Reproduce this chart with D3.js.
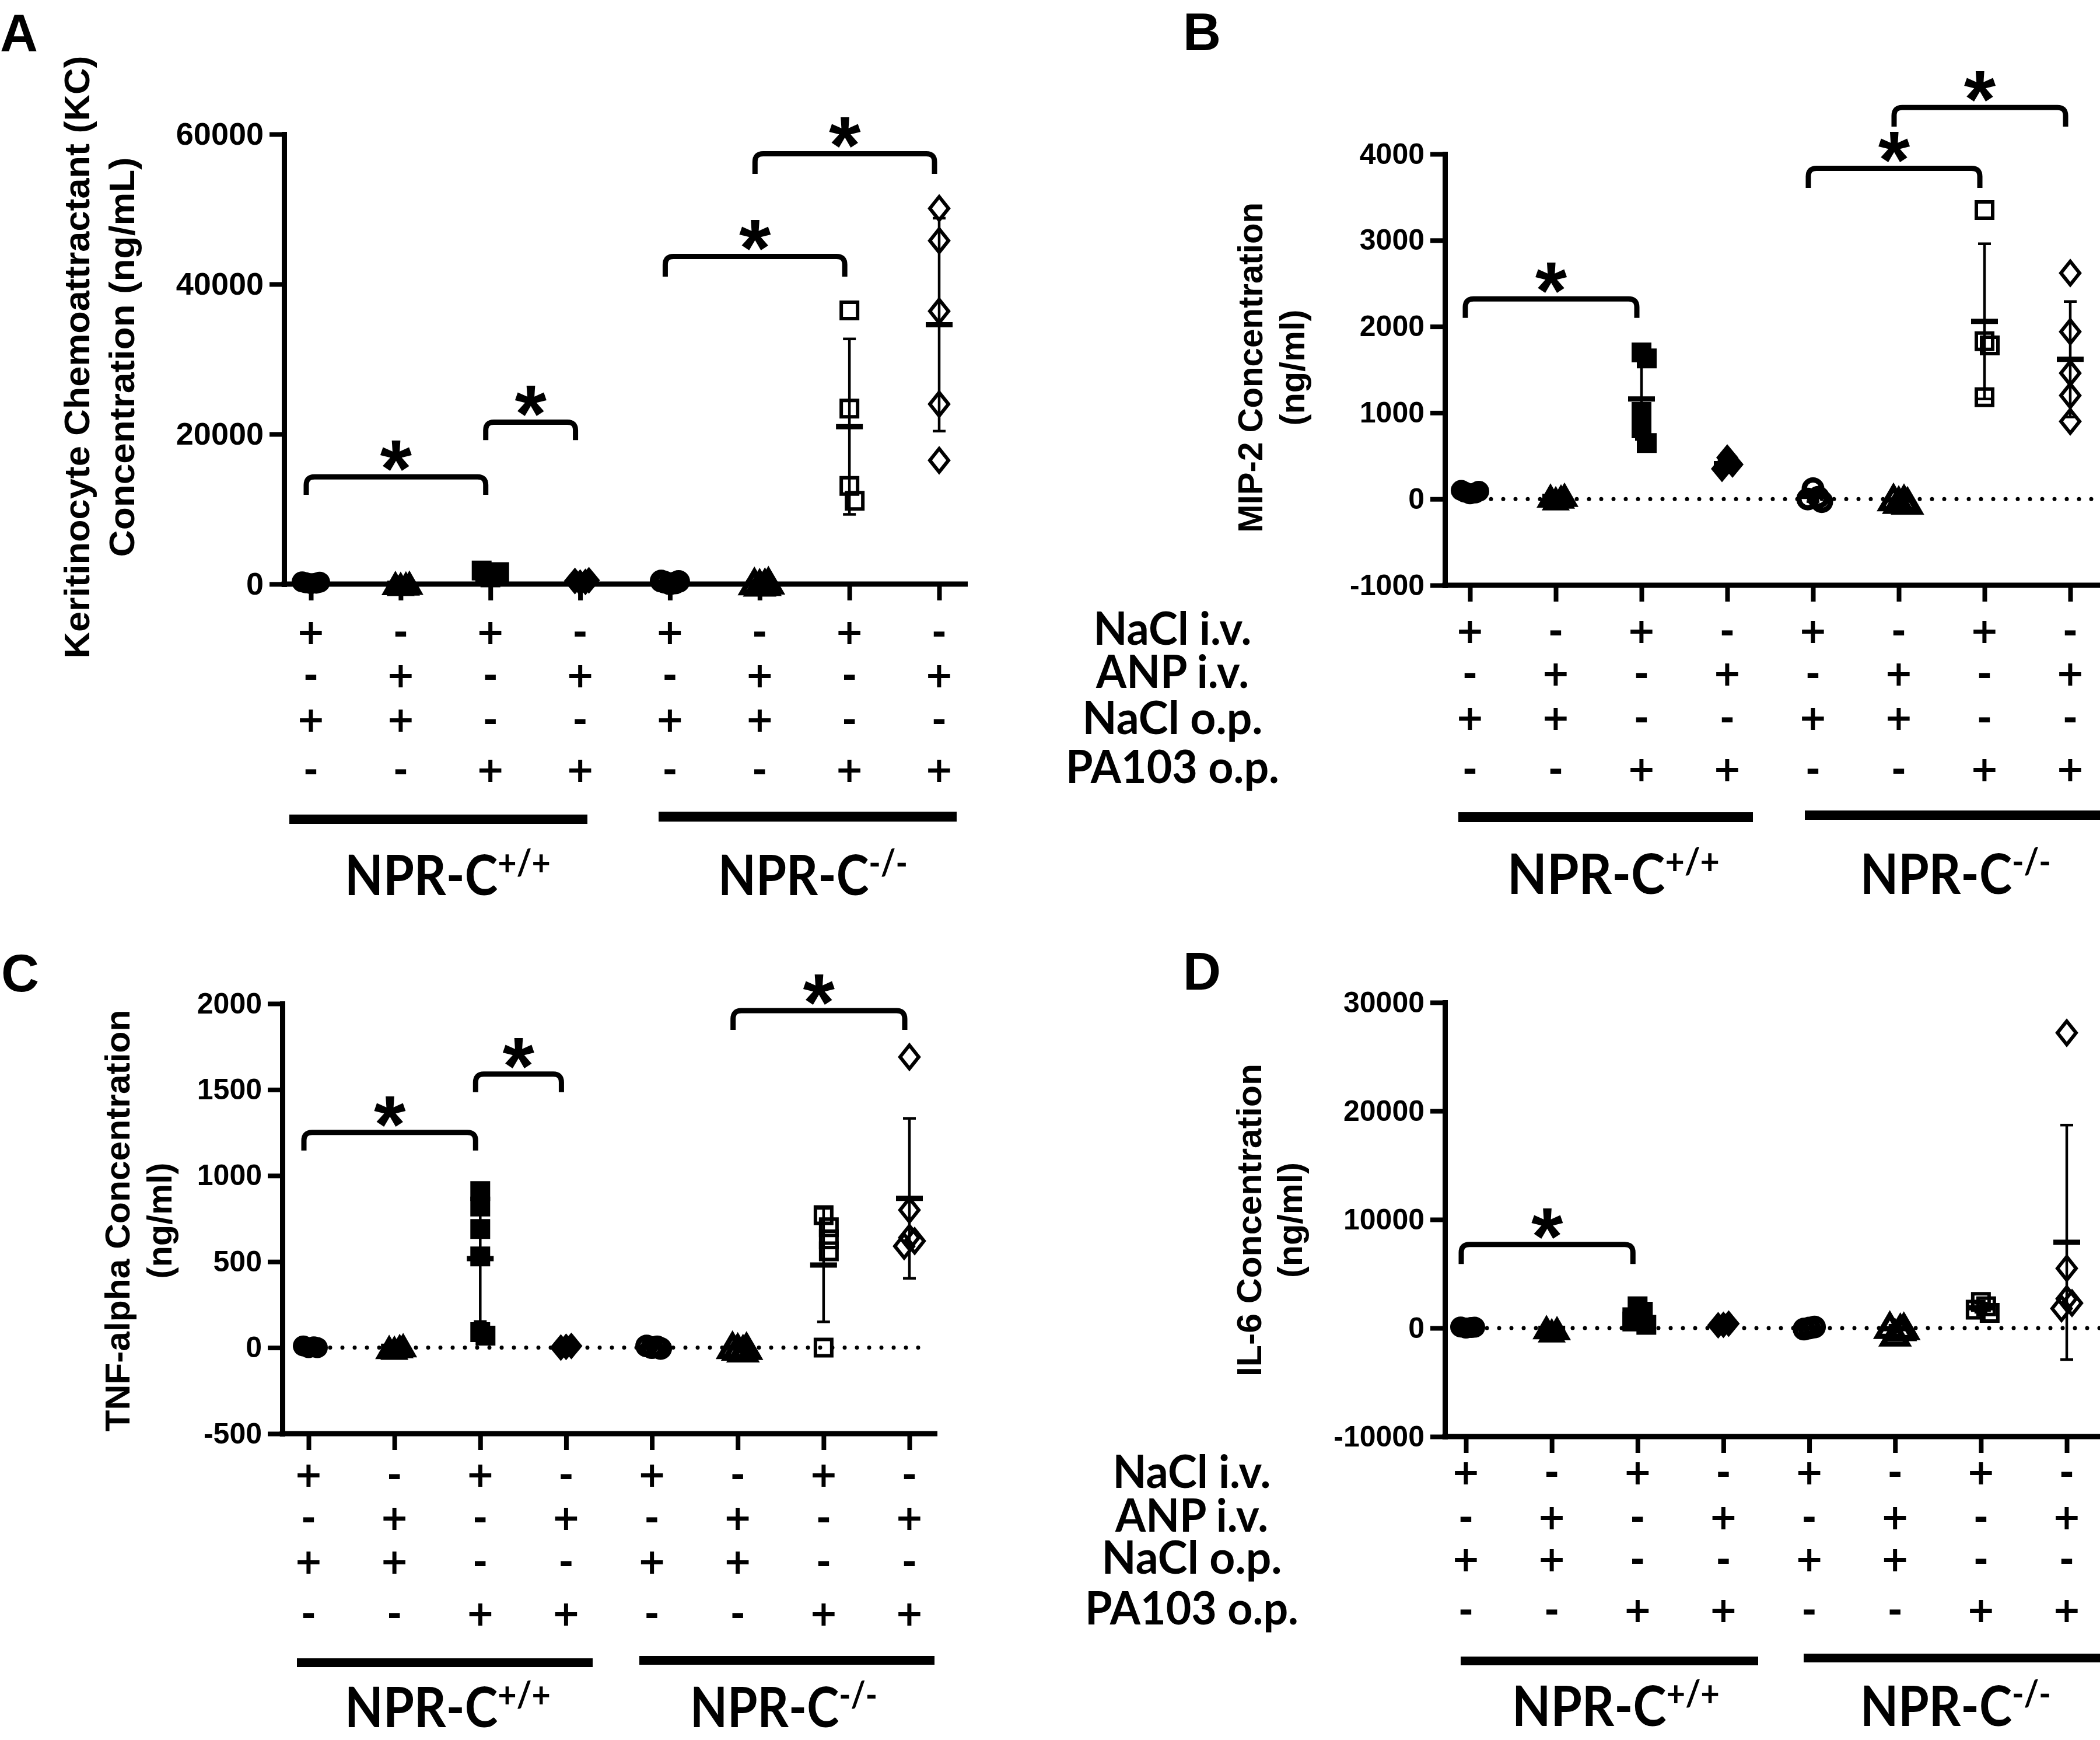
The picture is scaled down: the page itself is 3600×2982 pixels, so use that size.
<!DOCTYPE html>
<html><head><meta charset="utf-8">
<script src="https://cdn.jsdelivr.net/npm/d3@7"></script>
<style>body{margin:0;background:#fff}svg{display:block}</style>
</head><body>
<svg id="c" width="3600" height="2982"></svg>
<script>
// ---------------- DATA ----------------
const groups = ["WT NaCl iv/NaCl op","WT ANP iv/NaCl op","WT NaCl iv/PA103 op","WT ANP iv/PA103 op",
                "KO NaCl iv/NaCl op","KO ANP iv/NaCl op","KO NaCl iv/PA103 op","KO ANP iv/PA103 op"];
const rowLabels = ["NaCl i.v.","ANP i.v.","NaCl o.p.","PA103 o.p."];
const naclIV  = ["+","-","+","-","+","-","+","-"];
const anpIV   = ["-","+","-","+","-","+","-","+"];
const naclOP  = ["+","+","-","-","+","+","-","-"];
const pa103OP = ["-","-","+","+","-","-","+","+"];
const genotypeMain = ["NPR-C","NPR-C"];
const genotypeSup  = ["+/+","-/-"];
const markerShapes = ["circle","triangle","square","diamond","circle","triangle","square","diamond"];
const markerOpen   = [false,false,false,false,true,true,true,true];

// Panel A: KC
const kcTicks = [0,20000,40000,60000];
const kcValues = [[60,120,180,250,300],[40,90,150,200],[900,1200,1400,1600,1800],[200,300,400,500],
                  [50,150,250,350,400],[80,150,250,350],[36500,23400,13100,11100],[50100,45800,36400,24000,16500]];
const kcMean = [180,120,1380,350,240,210,21000,34600];
const kcSD   = [90,70,350,130,140,120,11700,14200];
const kcBrackets = [[0,2,14300,11900],[2,3,21600,19200],[4,6,43700,41000],[5,7,57400,54700]];

// Panel B: MIP-2
const mipTicks = [-1000,0,1000,2000,3000,4000];
const mipValues = [[60,70,80,90,100],[10,30,40,50],[1700,1630,1010,820,650],[480,400,350],
                   [120,20,0,-30],[-20,0,10,-30],[3350,1830,1780,1180],[2620,1940,1460,1200,900]];
const mipMean = [80,30,1160,410,30,-10,2060,1620];
const mipSD   = [15,17,470,65,60,20,900,670];
const mipBrackets = [[0,2,2320,2100],[4,6,3835,3608],[5,7,4540,4318]];

// Panel C: TNF-alpha
const tnfTicks = [-500,0,500,1000,1500,2000];
const tnfValues = [[0,5,10,0],[0,10,5,15],[910,820,690,530,90,70],[5,10,0],
                   [0,5,10,-5],[0,-10,10,5],[770,700,630,560,0],[1690,800,640,620,590]];
const tnfMean = [4,8,518,5,3,2,480,868];
const tnfSD   = [5,6,366,5,6,9,330,465];
const tnfBrackets = [[0,2,1251,1146],[2,3,1590,1485],[5,7,1959,1847]];

// Panel D: IL-6
const il6Ticks = [-10000,0,10000,20000,30000];
const il6Values = [[0,50,100,80],[-200,0,100],[2000,1500,1000,600,300],[300,400,250],
                   [0,100,-100],[-500,0,200,100],[2400,2000,1700,1400],[27200,5500,2700,2300,1800]];
const il6Mean = [58,-33,1080,317,0,-50,1875,7900];
const il6SD   = [44,153,680,76,100,310,420,10800];
const il6Brackets = [[0,2,7700,5900]];

// ---------------- LAYOUT ----------------
const FA = "'Liberation Sans', Arial, sans-serif";
const FC = "Lato, 'Open Sans', 'Liberation Sans', sans-serif";
const FS = "'DejaVu Sans', sans-serif";
const svg = d3.select("#c");

const panels = [
 {letter:"A", lx:0, ly:88, values:kcValues, mean:kcMean, sd:kcSD, brackets:kcBrackets, domain:[0,60000], ticks:kcTicks,
  axisX:487, yTop:230, yBot:1001, xFirst:533, xLast:1610, xEnd:1659, tickFont:54, zero:null,
  title:["Keritinocyte Chemoattractant (KC)","Concentration (ng/mL)"], titleFont:62, titleX:[153,230], titleY:612, titleLen:[1033,685],
  rowsC:[1082,1156,1232,1318], rowLabelX:null, rowLabelY:null,
  bars:[[496,1396,511,16],[1129,1391,511,17]],
  geno:[[591,1534,353],[1231,1534,325]]},
 {letter:"B", lx:2028, ly:86, values:mipValues, mean:mipMean, sd:mipSD, brackets:mipBrackets, domain:[-1000,4000], ticks:mipTicks,
  axisX:2477, yTop:264, yBot:1003, xFirst:2520, xLast:3549, xEnd:3600, tickFont:50, zero:[2535,3600],
  title:["MIP-2 Concentration","(ng/ml)"], titleFont:59, titleX:[2164,2236], titleY:630, titleLen:[566,199],
  rowsC:[1080,1153,1229,1317], rowLabelX:2010, rowLabelY:[1105,1179,1258,1342],
  bars:[[2500,1392,505,17],[3094,1389,506,16]],
  geno:[[2584,1532,364],[3189,1532,327]]},
 {letter:"C", lx:2, ly:1699, values:tnfValues, mean:tnfMean, sd:tnfSD, brackets:tnfBrackets, domain:[-500,2000], ticks:tnfTicks,
  axisX:484, yTop:1720, yBot:2457, xFirst:529, xLast:1559, xEnd:1607, tickFont:50, zero:[545,1590],
  title:["TNF-alpha Concentration","(ng/ml)"], titleFont:59, titleX:[222,294], titleY:2092, titleLen:[723,199],
  rowsC:[2526,2600,2675,2764], rowLabelX:null, rowLabelY:null,
  bars:[[509,2842,507,15],[1096,2838,506,15]],
  geno:[[591,2960,353],[1183,2960,321]]},
 {letter:"D", lx:2028, ly:1696, values:il6Values, mean:il6Mean, sd:il6SD, brackets:il6Brackets, domain:[-10000,30000], ticks:il6Ticks,
  axisX:2477, yTop:1718, yBot:2462, xFirst:2513, xLast:3543, xEnd:3600, tickFont:50, zero:[2528,3600],
  title:["IL-6 Concentration","(ng/ml)"], titleFont:59, titleX:[2162,2232], titleY:2091, titleLen:[536,198],
  rowsC:[2522,2599,2671,2758], rowLabelX:2043, rowLabelY:[2550,2625,2697,2784],
  bars:[[2504,2839,510,15],[3092,2834,508,15]],
  geno:[[2592,2958,356],[3189,2958,327]]}
];

const rowData = [naclIV, anpIV, naclOP, pa103OP];
const rowLabelLen = [271,262,309,366];
const SYM_FS = 60;

function markerPath(shape, open){
  const sw = open ? 6 : 0, inset = sw/2;
  if(shape==="circle"){ const r=18-inset; return `M${-r},0A${r},${r} 0 1 0 ${r},0A${r},${r} 0 1 0 ${-r},0Z`; }
  if(shape==="square"){ const h=17-inset; return `M${-h},${-h}H${h}V${h}H${-h}Z`; }
  if(shape==="triangle"){ const w=24-inset, hh=21-inset; return `M0,${-hh}L${w},${hh}H${-w}Z`; }
  const w=19-inset, hh=23-inset; return `M0,${-hh}L${w},0L0,${hh}L${-w},0Z`;
}

panels.forEach(p=>{
  const g = svg.append("g");
  const x = d3.scalePoint().domain(groups).range([p.xFirst, p.xLast]);
  const y = d3.scaleLinear().domain(p.domain).range([p.yBot, p.yTop]);

  // zero dotted line
  if(p.zero){
    g.append("line").attr("x1",p.zero[0]).attr("x2",p.zero[1]).attr("y1",y(0)).attr("y2",y(0))
      .attr("stroke","#000").attr("stroke-width",7).attr("stroke-linecap","round").attr("stroke-dasharray","0 21");
  }

  // y axis
  const ya = g.append("g").attr("transform",`translate(${p.axisX},0)`)
    .call(d3.axisLeft(y).tickValues(p.ticks).tickSize(25).tickSizeOuter(0).tickPadding(10).tickFormat(d=>String(d)));
  ya.attr("font-family",FA).attr("font-size",p.tickFont).attr("font-weight","bold");
  ya.select(".domain").attr("stroke","#000").attr("stroke-width",9).attr("stroke-linecap","square");
  ya.selectAll(".tick line").attr("stroke","#000").attr("stroke-width",8);
  ya.selectAll(".tick text").attr("fill","#000");

  // x axis
  g.append("line").attr("x1",p.axisX-4.5).attr("x2",p.xEnd).attr("y1",p.yBot).attr("y2",p.yBot)
    .attr("stroke","#000").attr("stroke-width",9);
  const xa = g.append("g").attr("transform",`translate(0,${p.yBot})`)
    .call(d3.axisBottom(x).tickSize(28).tickSizeOuter(0).tickFormat(""));
  xa.select(".domain").remove();
  xa.selectAll(".tick line").attr("stroke","#000").attr("stroke-width",8);

  // points
  p.values.forEach((vals,i)=>{
    const cx = x(groups[i]);
    const shape = markerShapes[i], open = markerOpen[i];
    const placed = [];
    vals.forEach(v=>{
      const py = y(v);
      const k = placed.filter(q=>Math.abs(q-py)<26).length;
      placed.push(py);
      const dx = [0,9,-9,15,-15][Math.min(k,4)];
      g.append("path").attr("d",markerPath(shape,open))
        .attr("transform",`translate(${cx+dx},${py})`)
        .attr("fill",open?"none":"#000").attr("stroke","#000")
        .attr("stroke-width",open?(i<6?9:6):0).attr("stroke-linejoin","miter");
    });
    // error bars (mean ± SD)
    const m = p.mean[i], s = p.sd[i];
    const eb = g.append("g").attr("stroke","#000");
    eb.append("line").attr("x1",cx).attr("x2",cx).attr("y1",y(m-s)).attr("y2",y(m+s)).attr("stroke-width",4.5);
    [m-s,m+s].forEach(v=>eb.append("line").attr("x1",cx-11).attr("x2",cx+11).attr("y1",y(v)).attr("y2",y(v)).attr("stroke-width",4.5));
    eb.append("line").attr("x1",cx-23).attr("x2",cx+23).attr("y1",y(m)).attr("y2",y(m)).attr("stroke-width",9);
  });

  // significance brackets
  p.brackets.forEach(b=>{
    const x1 = x(groups[b[0]])-8, x2 = x(groups[b[1]])-8;
    const yt = y(b[2]), ya2 = y(b[3]), r = 14;
    g.append("path")
      .attr("d",`M${x1},${ya2}V${yt+r}Q${x1},${yt} ${x1+r},${yt}H${x2-r}Q${x2},${yt} ${x2},${yt+r}V${ya2}`)
      .attr("fill","none").attr("stroke","#000").attr("stroke-width",9);
    g.append("text").attr("x",(x1+x2)/2).attr("y",yt+34).attr("text-anchor","middle")
      .attr("font-family",FA).attr("font-weight","bold").attr("font-size",140).text("*");
  });

  // treatment rows
  rowData.forEach((row,r)=>{
    row.forEach((s,i)=>{
      g.append("text").attr("x",x(groups[i])).attr("y",p.rowsC[r]+0.36*SYM_FS).attr("text-anchor","middle")
        .attr("font-family",FS).attr("font-weight","bold").attr("font-size",SYM_FS).text(s);
    });
    if(p.rowLabelX!==null){
      g.append("text").attr("x",p.rowLabelX).attr("y",p.rowLabelY[r]).attr("text-anchor","middle")
        .attr("font-family",FC).attr("font-weight","bold").attr("font-size",78)
        .attr("textLength",rowLabelLen[r]).attr("lengthAdjust","spacingAndGlyphs").text(rowLabels[r]);
    }
  });

  // genotype bars and labels
  p.bars.forEach(b=>g.append("rect").attr("x",b[0]).attr("y",b[1]).attr("width",b[2]).attr("height",b[3]).attr("fill","#000"));
  p.geno.forEach((gg,j)=>{
    const t = g.append("text").attr("x",gg[0]).attr("y",gg[1]).attr("font-family",FC).attr("font-weight","bold")
      .attr("font-size",95).attr("textLength",gg[2]).attr("lengthAdjust","spacingAndGlyphs");
    t.append("tspan").text(genotypeMain[j]);
    t.append("tspan").attr("font-size",62).attr("dy",-34).text(genotypeSup[j]);
  });

  // y title
  p.title.forEach((tt,k)=>{
    g.append("text").attr("transform",`translate(${p.titleX[k]},${p.titleY}) rotate(-90)`)
      .attr("text-anchor","middle").attr("font-family",FA).attr("font-weight","bold").attr("font-size",p.titleFont)
      .attr("textLength",p.titleLen[k]).attr("lengthAdjust","spacingAndGlyphs").text(tt);
  });

  // panel letter
  g.append("text").attr("x",p.lx).attr("y",p.ly).attr("font-family",FA).attr("font-weight","bold")
    .attr("font-size",90).text(p.letter);
});
</script>
</body></html>
